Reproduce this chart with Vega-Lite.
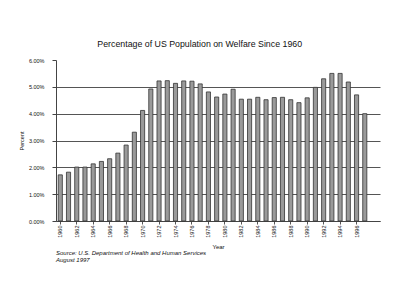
{
  "$schema": "https://vega.github.io/schema/vega-lite/v6.json",
  "background": "white",
  "padding": {"left": 19, "top": 40, "right": 5, "bottom": 5},
  "title": {
    "text": "Percentage of US Population on Welfare Since 1960",
    "font": "Liberation Sans",
    "fontSize": 8.8,
    "fontWeight": "normal",
    "color": "#111",
    "anchor": "middle",
    "offset": 9
  },
  "vconcat": [
    {
      "width": 324,
      "height": 161,
      "title": {
        "text": ["Source: U.S. Department of Health and Human Services", "August 1997"],
        "orient": "bottom",
        "anchor": "start",
        "frame": "group",
        "font": "Liberation Sans",
        "fontSize": 6,
        "fontStyle": "italic",
        "fontWeight": "normal",
        "lineHeight": 6.5,
        "offset": 1,
        "color": "#111"
      },
      "data": {
        "values": [
          {"year": 1960, "pct": 1.72}, {"year": 1961, "pct": 1.82}, {"year": 1962, "pct": 2.01},
          {"year": 1963, "pct": 2.01}, {"year": 1964, "pct": 2.13}, {"year": 1965, "pct": 2.22},
          {"year": 1966, "pct": 2.32}, {"year": 1967, "pct": 2.53}, {"year": 1968, "pct": 2.83},
          {"year": 1969, "pct": 3.31}, {"year": 1970, "pct": 4.12}, {"year": 1971, "pct": 4.92},
          {"year": 1972, "pct": 5.22}, {"year": 1973, "pct": 5.23}, {"year": 1974, "pct": 5.13},
          {"year": 1975, "pct": 5.22}, {"year": 1976, "pct": 5.21}, {"year": 1977, "pct": 5.11},
          {"year": 1978, "pct": 4.81}, {"year": 1979, "pct": 4.62}, {"year": 1980, "pct": 4.73},
          {"year": 1981, "pct": 4.91}, {"year": 1982, "pct": 4.54}, {"year": 1983, "pct": 4.54},
          {"year": 1984, "pct": 4.61}, {"year": 1985, "pct": 4.52}, {"year": 1986, "pct": 4.6},
          {"year": 1987, "pct": 4.61}, {"year": 1988, "pct": 4.52}, {"year": 1989, "pct": 4.41},
          {"year": 1990, "pct": 4.59}, {"year": 1991, "pct": 4.98}, {"year": 1992, "pct": 5.3},
          {"year": 1993, "pct": 5.5}, {"year": 1994, "pct": 5.5}, {"year": 1995, "pct": 5.18},
          {"year": 1996, "pct": 4.7}, {"year": 1997, "pct": 4.0}
        ]
      },
      "mark": {"type": "bar", "fill": "#9a9a9a", "stroke": "#333", "strokeWidth": 0.8},
      "encoding": {
        "x": {
          "field": "year",
          "type": "ordinal",
          "scale": {"paddingInner": 0.5, "paddingOuter": 0.935, "align": 0.145},
          "axis": {
            "values": [1960, 1962, 1964, 1966, 1968, 1970, 1972, 1974, 1976, 1978, 1980, 1982, 1984, 1986, 1988, 1990, 1992, 1994, 1996],
            "labelAngle": -90,
            "labelFont": "Liberation Sans",
            "labelFontSize": 5.5,
            "labelColor": "#111",
            "labelPadding": 1,
            "tickSize": 3,
            "tickColor": "#555",
            "domainColor": "#444",
            "title": "Year",
            "titleFont": "Liberation Sans",
            "titleFontSize": 6,
            "titleFontWeight": "normal",
            "titleColor": "#111",
            "titlePadding": 6
          }
        },
        "y": {
          "field": "pct",
          "type": "quantitative",
          "scale": {"domain": [0, 6]},
          "axis": {
            "values": [0, 1, 2, 3, 4, 5, 6],
            "labelExpr": "format(datum.value, '.2f') + '%'",
            "labelFont": "Liberation Sans",
            "labelFontSize": 5.5,
            "labelColor": "#111",
            "labelPadding": 8,
            "tickSize": 4,
            "tickColor": "#444",
            "domainColor": "#444",
            "gridColor": "#555",
            "gridOpacity": {"condition": {"test": "datum.value === 6", "value": 0}, "value": 1},
            "title": "Percent",
            "titleFont": "Liberation Sans",
            "titleFontSize": 5.5,
            "titleFontWeight": "normal",
            "titleColor": "#111",
            "titlePadding": 4
          }
        }
      }
    }
  ],
  "config": {"view": {"stroke": null}, "concat": {"spacing": 0}}
}
